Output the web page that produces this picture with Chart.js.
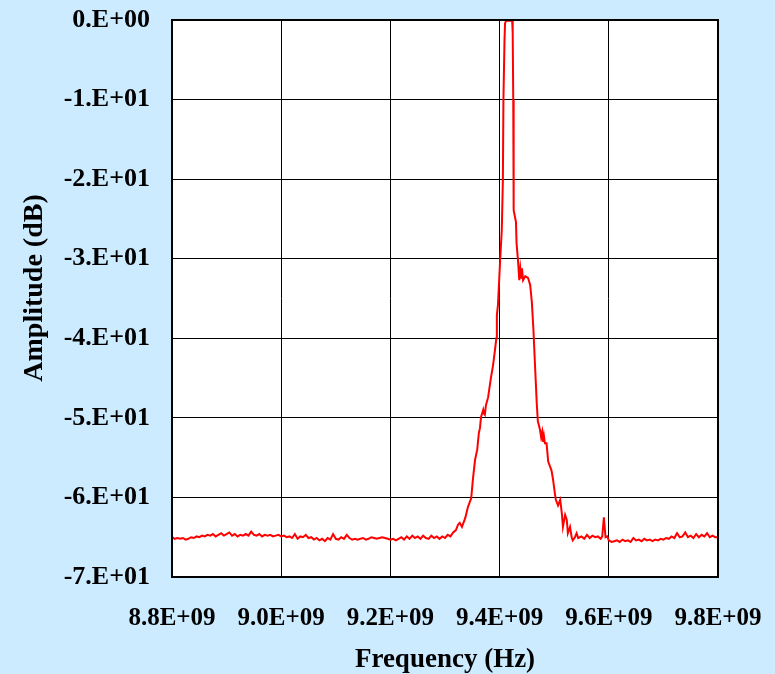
<!DOCTYPE html>
<html>
<head>
<meta charset="utf-8">
<script src="https://cdn.jsdelivr.net/npm/chart.js@4/dist/chart.umd.min.js"></script>
<style>
  html, body { margin: 0; padding: 0; background: #CCEBFF; }
  canvas { display: block; }
</style>
</head>
<body>
<canvas id="c" width="775" height="674"></canvas>
<script>
// Frequency in GHz (plotted in Hz), amplitude in dB
const frequencyGHz = [
  8.800,8.805,8.810,8.815,8.820,8.825,8.830,8.835,8.840,8.845,
  8.850,8.855,8.860,8.865,8.870,8.875,8.880,8.885,8.890,8.895,
  8.900,8.905,8.910,8.915,8.920,8.925,8.930,8.935,8.940,8.945,
  8.950,8.955,8.960,8.965,8.970,8.975,8.980,8.985,8.990,8.995,
  9.000,9.005,9.010,9.015,9.020,9.025,9.030,9.035,9.040,9.045,
  9.050,9.055,9.060,9.065,9.070,9.075,9.080,9.085,9.090,9.095,
  9.100,9.105,9.110,9.115,9.120,9.125,9.130,9.135,9.140,9.145,
  9.150,9.155,9.160,9.165,9.170,9.175,9.180,9.185,9.190,9.195,
  9.200,9.205,9.210,9.215,9.220,9.225,9.230,9.235,9.240,9.245,
  9.250,9.255,9.260,9.265,9.270,9.275,9.280,9.285,9.290,9.295,
  9.300,9.305,9.310,9.315,
  9.320,9.324,9.327,9.331,9.337,9.342,9.348,9.351,9.355,9.359,
  9.362,9.364,9.366,9.370,9.371,9.373,9.375,9.379,9.384,9.388,
  9.392,9.394,9.395,9.397,9.401,9.404,9.406,9.407,9.409,9.410,
  9.412,9.417,9.423,9.424,9.425,9.4255,9.426,9.430,9.431,9.434,
  9.436,9.438,9.440,9.441,9.443,9.447,9.452,9.456,9.459,9.461,
  9.462,9.465,9.468,9.470,9.474,9.476,9.478,9.479,9.481,9.483,
  9.486,9.489,9.495,9.498,9.501,9.503,9.507,9.511,9.514,9.516,
  9.520,9.523,9.525,9.529,9.532,9.534,9.538,9.541,9.544,
  9.550,9.555,9.560,9.565,9.570,9.575,9.580,9.585,9.588,9.591,
  9.594,9.597,9.600,9.605,9.610,9.615,9.620,9.625,9.630,9.635,
  9.640,9.645,9.650,9.655,9.660,9.665,9.670,9.675,9.680,9.685,
  9.690,9.695,9.700,9.705,9.710,9.715,9.720,9.725,9.730,9.735,
  9.740,9.745,9.750,9.755,9.760,9.765,9.770,9.775,9.780,9.785,
  9.790,9.795,9.800
];
const amplitudeDb = [
  -65.0,-65.2,-65.1,-65.2,-65.1,-65.3,-65.2,-65.0,-65.1,-64.9,
  -65.0,-64.8,-64.9,-64.7,-64.8,-64.6,-64.9,-64.7,-64.5,-64.8,
  -64.6,-64.4,-64.8,-64.6,-64.9,-64.7,-64.8,-64.6,-64.8,-64.3,
  -64.7,-64.8,-64.6,-64.9,-64.7,-64.8,-64.7,-64.9,-64.8,-64.7,
  -64.9,-64.8,-65.0,-64.9,-65.1,-64.6,-65.2,-64.9,-65.0,-64.7,
  -65.1,-65.0,-65.3,-65.1,-65.4,-65.2,-65.5,-65.1,-65.3,-64.6,
  -65.2,-65.3,-65.0,-65.2,-64.7,-65.1,-65.3,-65.2,-65.3,-65.2,
  -65.1,-65.3,-65.2,-65.0,-65.1,-65.2,-65.1,-65.0,-65.1,-65.2,
  -65.3,-65.2,-65.4,-65.2,-65.0,-65.3,-64.9,-65.2,-64.8,-65.1,
  -64.9,-65.2,-64.8,-65.1,-65.2,-64.8,-65.1,-64.9,-65.2,-64.9,
  -65.1,-64.7,-64.9,-64.4,
  -64.1,-63.4,-63.2,-63.7,-62.6,-61.2,-60.1,-57.8,-55.3,-54.0,
  -51.9,-51.3,-49.9,-49.0,-49.4,-49.6,-48.4,-47.4,-45.0,-43.4,
  -41.2,-40.0,-37.1,-35.8,-30.2,-26.4,-20.1,-10.0,-2.5,-0.4,
  -0.1,-0.1,-0.1,-1.6,-10.1,-20.1,-23.9,-25.4,-28.0,-30.5,
  -32.7,-31.2,-32.4,-31.2,-32.7,-32.2,-32.4,-33.3,-35.4,-37.8,
  -39.0,-43.6,-48.1,-50.4,-51.5,-52.4,-51.8,-53.0,-52.2,-53.2,
  -53.2,-55.5,-56.6,-57.8,-59.4,-60.3,-61.0,-60.3,-62.0,-63.7,
  -62.2,-62.8,-64.5,-63.7,-65.0,-65.4,-65.0,-64.5,-65.1,
  -64.9,-65.2,-64.7,-65.1,-64.8,-65.0,-64.9,-65.2,-64.9,-62.5,
  -65.0,-64.9,-65.4,-65.6,-65.5,-65.4,-65.6,-65.3,-65.5,-65.4,
  -65.6,-65.1,-65.4,-65.3,-65.5,-65.2,-65.4,-65.3,-65.5,-65.3,
  -65.4,-65.2,-65.3,-65.1,-65.2,-64.9,-65.1,-64.5,-65.0,-64.9,
  -64.4,-65.0,-64.8,-65.1,-64.6,-65.0,-64.7,-64.9,-64.5,-65.0,
  -64.8,-65.0,-65.0
];
const xTickValuesHz = [8.8e9, 9.0e9, 9.2e9, 9.4e9, 9.6e9, 9.8e9];
const xTickLabels = ["8.8E+09","9.0E+09","9.2E+09","9.4E+09","9.6E+09","9.8E+09"];
const yTickValues = [0,-10,-20,-30,-40,-50,-60,-70];
const yTickLabels = ["0.E+00","-1.E+01","-2.E+01","-3.E+01","-4.E+01","-5.E+01","-6.E+01","-7.E+01"];

const points = frequencyGHz.map((f, i) => ({ x: f * 1e9, y: amplitudeDb[i] }));

const FONT = "'Liberation Serif', 'Times New Roman', serif";

const framePlugin = {
  id: 'frame',
  beforeDraw(chart) {
    const { ctx, chartArea: a } = chart;
    ctx.save();
    ctx.fillStyle = '#CCEBFF';
    ctx.fillRect(0, 0, chart.width, chart.height);
    ctx.fillStyle = '#FFFFFF';
    ctx.fillRect(a.left, a.top, a.right - a.left, a.bottom - a.top);
    ctx.restore();
  },
  afterDraw(chart) {
    const { ctx, chartArea: a } = chart;
    ctx.save();
    ctx.strokeStyle = '#000000';
    ctx.lineWidth = 2;
    ctx.strokeRect(a.left, a.top, a.right - a.left, a.bottom - a.top);
    ctx.restore();
  }
};

function zeroPad(s) {
  s.paddingTop = 0; s.paddingBottom = 0; s.paddingLeft = 0; s.paddingRight = 0;
}

new Chart(document.getElementById('c'), {
  type: 'line',
  data: {
    datasets: [{
      data: points,
      borderColor: '#FF0000',
      borderWidth: 2,
      pointRadius: 0,
      tension: 0,
      fill: false
    }]
  },
  options: {
    responsive: false,
    animation: false,
    plugins: { legend: { display: false }, tooltip: { enabled: false } },
    layout: { padding: { top: 20, right: 57, left: 0, bottom: 0 } },
    scales: {
      x: {
        type: 'linear',
        min: 8.8e9,
        max: 9.8e9,
        afterFit(s) { s.height = 97; zeroPad(s); },
        afterBuildTicks(s) { s.ticks = xTickValuesHz.map(v => ({ value: v })); },
        ticks: {
          autoSkip: false,
          maxRotation: 0,
          padding: 27,
          color: '#000000',
          font: { family: FONT, size: 25, weight: 'bold' },
          callback(v) {
            const i = xTickValuesHz.findIndex(t => Math.abs(t - v) < 1e6);
            return i >= 0 ? xTickLabels[i] : '';
          }
        },
        grid: { color: '#000000', lineWidth: 1, drawTicks: false },
        border: { display: false },
        title: {
          display: true,
          text: 'Frequency (Hz)',
          color: '#000000',
          font: { family: FONT, size: 27, weight: 'bold', lineHeight: 1 },
          padding: { top: 0, bottom: 0 }
        }
      },
      y: {
        min: -70,
        max: 0,
        afterFit(s) { s.width = 172; zeroPad(s); },
        afterBuildTicks(s) { s.ticks = yTickValues.map(v => ({ value: v })); },
        ticks: {
          autoSkip: false,
          padding: 22,
          color: '#000000',
          font: { family: FONT, size: 26, weight: 'bold' },
          callback(v) {
            const i = yTickValues.indexOf(v);
            return i >= 0 ? yTickLabels[i] : '';
          }
        },
        grid: { color: '#000000', lineWidth: 1, drawTicks: false },
        border: { display: false },
        title: {
          display: true,
          text: '   Amplitude (dB)',
          color: '#000000',
          font: { family: FONT, size: 28, weight: 'bold', lineHeight: 1 },
          padding: { top: 21, bottom: 0 }
        }
      }
    }
  },
  plugins: [framePlugin]
});
</script>
</body>
</html>
